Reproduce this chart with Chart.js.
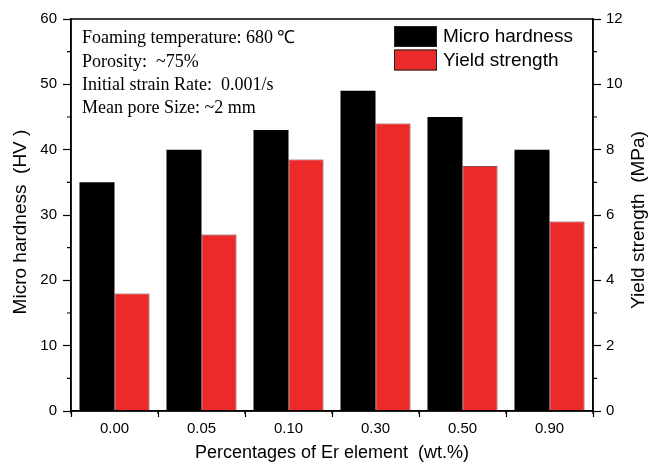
<!DOCTYPE html>
<html>
<head>
<meta charset="utf-8">
<script src="https://cdn.jsdelivr.net/npm/chart.js@4/dist/chart.umd.min.js"></script>
<style>
  html, body { margin: 0; padding: 0; background: #fff; }
  #wrap { width: 649px; height: 471px; position: relative; }
</style>
</head>
<body>
<div id="wrap"><canvas id="c" width="649" height="471"></canvas></div>
<script>
const categories = ['0.00', '0.05', '0.10', '0.30', '0.50', '0.90'];
const microHardness = [35, 40, 43, 49, 45, 40];
const yieldStrength = [3.6, 5.4, 7.7, 8.8, 7.5, 5.8];
const seriesNames = ['Micro hardness', 'Yield strength'];
const leftTicks = [0, 10, 20, 30, 40, 50, 60];
const rightTicks = [0, 2, 4, 6, 8, 10, 12];
const notes = [
  'Foaming temperature: 680 \u2103',
  'Porosity:  ~75%',
  'Initial strain Rate:  0.001/s',
  'Mean pore Size: ~2 mm'
];
const xTitle = 'Percentages of Er element  (wt.%)';
const yTitle = 'Micro hardness  (HV )';
const y1Title = 'Yield strength  (MPa)';

const BLACK = '#000000';
const RED = '#EC2A2A';
const SANS = 'Arial, "Liberation Sans", sans-serif';
const SERIF = '"Times New Roman", "Liberation Serif", serif';

const decor = {
  id: 'decor',
  afterDraw(chart) {
    const ctx = chart.ctx;
    const a = chart.chartArea;
    const ys = chart.scales.y, y1 = chart.scales.y1, xs = chart.scales.x;
    ctx.save();
    // frame
    ctx.strokeStyle = '#000';
    ctx.lineWidth = 1.5;
    ctx.strokeRect(a.left, a.top, a.right - a.left, a.bottom - a.top);
    // minor ticks left
    ctx.lineWidth = 1.2;
    ctx.beginPath();
    for (let i = 0; i < leftTicks.length - 1; i++) {
      const v = (leftTicks[i] + leftTicks[i + 1]) / 2;
      const py = ys.getPixelForValue(v);
      ctx.moveTo(a.left - 4, py); ctx.lineTo(a.left, py);
    }
    for (let i = 0; i < rightTicks.length - 1; i++) {
      const v = (rightTicks[i] + rightTicks[i + 1]) / 2;
      const py = y1.getPixelForValue(v);
      ctx.moveTo(a.right, py); ctx.lineTo(a.right + 4, py);
    }
    // minor ticks at category boundaries on x
    for (let i = 0; i <= categories.length; i++) {
      const px = xs.getPixelForValue(i - 0.5);
      ctx.moveTo(px, a.bottom); ctx.lineTo(px, a.bottom + 3);
    }
    ctx.stroke();

    // axis titles
    ctx.fillStyle = '#000';
    ctx.textAlign = 'center';
    ctx.textBaseline = 'middle';
    ctx.font = '18px ' + SANS;
    ctx.fillText(xTitle, (a.left + a.right) / 2, 453);
    ctx.font = '19px ' + SANS;
    ctx.save();
    ctx.translate(21, 222);
    ctx.rotate(-Math.PI / 2);
    ctx.fillText(yTitle, 0, 0);
    ctx.restore();
    ctx.save();
    ctx.translate(639, 220);
    ctx.rotate(-Math.PI / 2);
    ctx.fillText(y1Title, 0, 0);
    ctx.restore();

    // annotation text
    ctx.textAlign = 'left';
    ctx.font = '18px ' + SERIF;
    const noteY = [38, 62, 85, 108];
    notes.forEach((t, i) => ctx.fillText(t, 82, noteY[i]));

    // legend
    const ds = chart.data.datasets;
    const sw = [[394, 26], [394, 49.5]];
    ds.forEach((d, i) => {
      ctx.fillStyle = d.backgroundColor;
      ctx.fillRect(sw[i][0], sw[i][1], 43, 21);
      ctx.strokeStyle = '#222';
      ctx.lineWidth = 1;
      ctx.strokeRect(sw[i][0] + 0.5, sw[i][1] + 0.5, 42, 20);
      ctx.fillStyle = '#000';
      ctx.font = '19px ' + SANS;
      ctx.fillText(d.label, 443, sw[i][1] + 11);
    });
    ctx.restore();
  }
};

new Chart(document.getElementById('c'), {
  type: 'bar',
  data: {
    labels: categories,
    datasets: [
      { label: seriesNames[0], data: microHardness, yAxisID: 'y',
        backgroundColor: BLACK, borderColor: '#000', borderWidth: 0,
        categoryPercentage: 0.805, barPercentage: 1.0 },
      { label: seriesNames[1], data: yieldStrength, yAxisID: 'y1',
        backgroundColor: RED, borderColor: '#5a1a1a', borderWidth: 0.8,
        categoryPercentage: 0.805, barPercentage: 1.0 }
    ]
  },
  options: {
    responsive: false,
    devicePixelRatio: 1,
    animation: false,
    layout: { padding: { top: 19, left: 0, right: 0, bottom: 0 } },
    plugins: { legend: { display: false }, tooltip: { enabled: false } },
    scales: {
      x: {
        type: 'category',
        grid: { display: true, drawOnChartArea: false, drawTicks: true, tickLength: 6, tickWidth: 1.2, tickColor: '#000', offset: true },
        border: { display: true, color: '#000', width: 1.5 },
        ticks: { color: '#000', font: { family: SANS, size: 15 }, padding: 3, maxRotation: 0 },
        afterFit(s) { s.height = 60; }
      },
      y: {
        position: 'left', min: 0, max: 60,
        afterBuildTicks(s) { s.ticks = leftTicks.map(v => ({ value: v })); },
        grid: { drawOnChartArea: false, drawTicks: true, tickLength: 8, tickWidth: 1.2, tickColor: '#000' },
        border: { display: true, color: '#000', width: 1.5 },
        ticks: { color: '#000', font: { family: SANS, size: 15 }, padding: 6 },
        afterFit(s) { s.width = 71; }
      },
      y1: {
        position: 'right', min: 0, max: 12,
        afterBuildTicks(s) { s.ticks = rightTicks.map(v => ({ value: v })); },
        grid: { drawOnChartArea: false, drawTicks: true, tickLength: 8, tickWidth: 1.2, tickColor: '#000' },
        border: { display: true, color: '#000', width: 1.5 },
        ticks: { color: '#000', font: { family: SANS, size: 15 }, padding: 5 },
        afterFit(s) { s.width = 56; }
      }
    }
  },
  plugins: [decor]
});
</script>
</body>
</html>
